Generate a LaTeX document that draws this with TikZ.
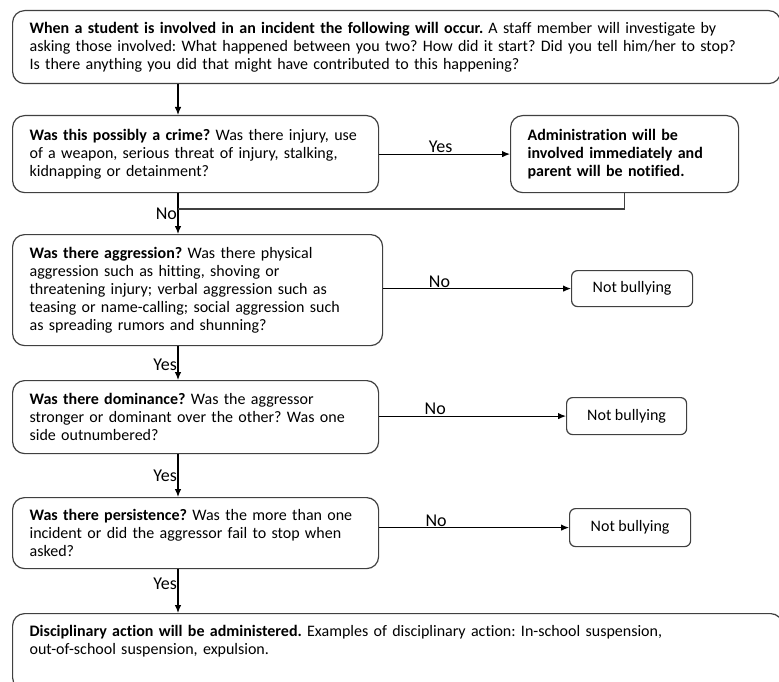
\documentclass[tikz,border=0pt]{standalone}
\usepackage{fontspec}
\setmainfont{Carlito}[Ligatures=CommonOff]
\usetikzlibrary{arrows.meta}
\frenchspacing

\tikzset{
  flowbox/.style={draw=black!75, line width=1.2pt, rounded corners=12pt, anchor=north west,
    align=left, inner xsep=17pt, inner ysep=0pt, font=\fontsize{16}{18}\selectfont},
  endbox/.style={draw=black!75, line width=1.2pt, rounded corners=6pt, anchor=north west,
    align=center, inner sep=0pt, font=\fontsize{16}{18}\selectfont},
  arr/.style={line width=1.1pt, -{Latex[length=8pt,width=6.5pt]}},
  lbl/.style={font=\fontsize{18}{18}\selectfont, inner sep=0.5pt}
}

\begin{document}
\begin{tikzpicture}[x=1pt, y=-1pt]
				\useasboundingbox (0,0) rectangle (779,682);
				\clip (0,0) rectangle (779,682);
				\coordinate (spine) at (178,0);
				\coordinate (merge) at (178,209);

				\node[flowbox, minimum width=768pt, minimum height=73pt, text width=734pt] (start) at (12,10)
					{\textbf{When a student is involved in an incident the following will occur.} A staff member will investigate by\\
					asking those involved: What happened between you two? How did it start? Did you tell him/her to stop?\\
					Is there anything you did that might have contributed to this happening?};
				\node[flowbox, minimum width=366pt, minimum height=77pt, text width=332pt] (crime) at (12,115)
					{\textbf{Was this possibly a crime?} Was there injury, use\\
					of a weapon, serious threat of injury, stalking,\\
					kidnapping or detainment?};
				\node[flowbox, minimum width=228pt, minimum height=77pt, text width=194pt] (admin) at (510,115)
					{\bfseries Administration will be\\ involved immediately and\\ parent will be notified.};
				\node[flowbox, minimum width=370pt, minimum height=111pt, text width=336pt] (aggr) at (12,234)
					{\textbf{Was there aggression?} Was there physical\\
					aggression such as hitting, shoving or\\
					threatening injury; verbal aggression such as\\
					teasing or name-calling; social aggression such\\
					as spreading rumors and shunning?};
				\node[endbox, minimum width=121pt, minimum height=36pt] (nbA) at (571,270) {Not bullying};
				\node[flowbox, minimum width=366pt, minimum height=73pt, text width=332pt] (dom) at (12,380)
					{\textbf{Was there dominance?} Was the aggressor\\
					stronger or dominant over the other? Was one\\
					side outnumbered?};
				\node[endbox, minimum width=120pt, minimum height=37pt] (nbB) at (566,397) {Not bullying};
				\node[flowbox, minimum width=366pt, minimum height=71pt, text width=332pt] (pers) at (12,497)
					{\textbf{Was there persistence?} Was the more than one\\
					incident or did the aggressor fail to stop when\\
					asked?};
				\node[endbox, minimum width=121pt, minimum height=38pt] (nbC) at (569,508) {Not bullying};
				\node[flowbox, minimum width=770pt, minimum height=76pt, text width=736pt] (disc) at (12,613)
					{\textbf{Disciplinary action will be administered.} Examples of disciplinary action: In-school suspension,\\
					out-of-school suspension, expulsion.\\ \strut};

				\draw[arr] (start.south -| spine) -- (crime.north -| spine);
				\draw[arr] (crime.east) -- node[lbl, above, pos=0.47] {Yes} (admin.west);
				\draw[arr] (crime.south -| spine) -- node[lbl, left, pos=0.5] {No} (aggr.north -| spine);
				\draw[line width=1.1pt, black!75] (admin.south) |- (merge);
				\draw[arr] (nbA.west -| aggr.east) -- node[lbl, above, pos=0.3] {No} (nbA.west);
				\draw[arr] (aggr.south -| spine) -- node[lbl, left, pos=0.55] {Yes} (dom.north -| spine);
				\draw[arr] (nbB.west -| dom.east) -- node[lbl, above, pos=0.3] {No} (nbB.west);
				\draw[arr] (dom.south -| spine) -- node[lbl, left, pos=0.5] {Yes} (pers.north -| spine);
				\draw[arr] (nbC.west -| pers.east) -- node[lbl, above, pos=0.3] {No} (nbC.west);
				\draw[arr] (pers.south -| spine) -- node[lbl, left, pos=0.33] {Yes} (disc.north -| spine);
			\end{tikzpicture}
\end{document}
